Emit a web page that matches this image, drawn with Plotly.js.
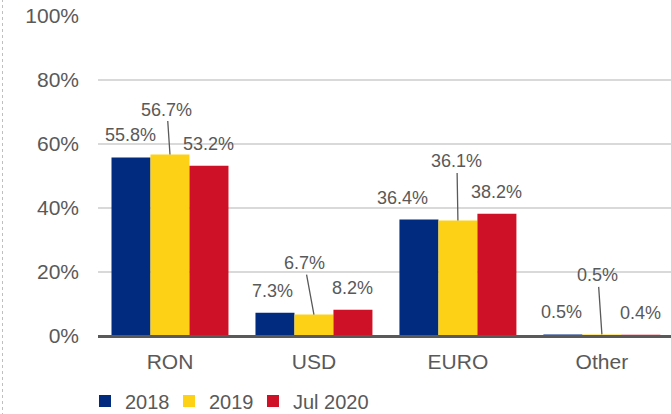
<!DOCTYPE html>
<html>
<head>
<meta charset="utf-8">
<script src="https://cdn.plot.ly/plotly-3.0.1.min.js"></script>
<style>html,body{margin:0;padding:0;background:#fff;}#chart{width:671px;height:414px;}</style>
</head>
<body>
<div id="chart"></div>
<script>
// ---- data ----
var categories = ['RON', 'USD', 'EURO', 'Other'];
var seriesNames = ['2018', '2019', 'Jul 2020'];
var values2018 = [55.8, 7.3, 36.4, 0.5];
var values2019 = [56.7, 6.7, 36.1, 0.5];
var valuesJul2020 = [53.2, 8.2, 38.2, 0.4];
var yTickVals = [0, 20, 40, 60, 80, 100];
var yTickText = ['0%', '20%', '40%', '60%', '80%', '100%'];

// ---- styling ----
var colors = ['#002B7F', '#FCD116', '#CE1126'];
var textColor = '#595959';
var font = 'Liberation Sans, Arial, sans-serif';
var barPx = 39;
var legendEntryPx = [39, 39, null];
// label placement (px) for each series
var labelDx = [[-0.5, -2.5, -16.5, -1], null, [-0.5, -0.5, -0.5, -0.5]];
var labelDy = 22;
var arrowAx = [-3, -9.5, -1, -4];
var arrowAy = [-45, -51.5, -59, -59];

var allValues = [values2018, values2019, valuesJul2020];
var traces = allValues.map(function (vals, i) {
  var t = {
    type: 'bar', name: seriesNames[i], x: categories, y: vals,
    marker: {color: colors[i], line: {width: 0}},
    hoverinfo: 'skip'
  };
  if (legendEntryPx[i]) t.legendwidth = legendEntryPx[i];
  return t;
});

var annotations = [];
allValues.forEach(function (vals, i) {
  vals.forEach(function (v, j) {
    var a = {
      x: categories[j], y: v, xref: 'x', yref: 'y',
      text: v.toFixed(1) + '%',
      font: {family: font, size: 18, color: textColor}
    };
    if (i === 1) {
      a.showarrow = true; a.arrowhead = 0; a.arrowwidth = 1.3; a.arrowcolor = textColor;
      a.ax = arrowAx[j]; a.ay = arrowAy[j]; a.standoff = 0;
    } else {
      a.showarrow = false;
      a.xshift = (i - 1) * barPx + labelDx[i][j];
      a.yshift = labelDy;
    }
    annotations.push(a);
  });
});

var layout = {
  width: 671, height: 414,
  margin: {l: 98, r: 0, t: 16, b: 78, autoexpand: false},
  paper_bgcolor: '#ffffff', plot_bgcolor: '#ffffff',
  font: {family: font, color: textColor},
  barmode: 'group', bargap: 0.1875, bargroupgap: 0,
  showlegend: true,
  legend: {
    orientation: 'h', x: -0.0227, xanchor: 'left', y: -0.142, yanchor: 'top',
    font: {family: font, size: 20, color: textColor},
    itemwidth: 30, traceorder: 'normal'
  },
  xaxis: {
    type: 'category', range: [-0.5, 3.48], fixedrange: true,
    showgrid: false, zeroline: false, showline: false, ticks: '',
    ticklabelstandoff: 11,
    tickfont: {family: font, size: 21, color: textColor}
  },
  yaxis: {
    range: [0, 100], tickvals: yTickVals, ticktext: yTickText, fixedrange: true,
    showgrid: true, gridcolor: '#D9D9D9', gridwidth: 2,
    zeroline: true, zerolinecolor: '#595959', zerolinewidth: 3,
    zerolinelayer: 'above traces',
    showline: false, ticks: '', ticklabelstandoff: 18,
    tickfont: {family: font, size: 21, color: textColor}
  },
  shapes: [{
    type: 'line', xref: 'paper', yref: 'paper', xsizemode: 'pixel', xanchor: 0,
    x0: -95.5, x1: -95.5, ysizemode: 'pixel', yanchor: 0, y0: -80, y1: 400,
    line: {color: '#BFBFBF', width: 1, dash: 'dot'}
  }],
  annotations: annotations
};

Plotly.newPlot('chart', traces, layout, {displayModeBar: false, staticPlot: true});
</script>
</body>
</html>
